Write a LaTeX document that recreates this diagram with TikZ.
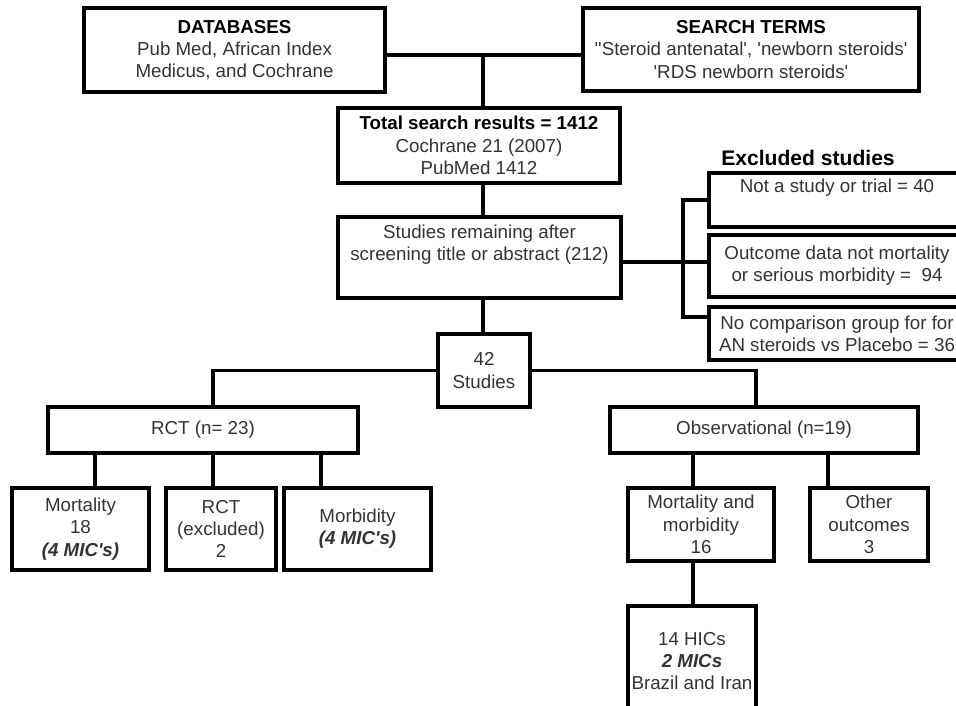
\documentclass[tikz,border=0pt]{standalone}
\usepackage{fontspec}
\setmainfont{Liberation Sans}
\newcommand{\mic}[1]{\textbf{\textit{#1}}}
\newcommand{\sq}{\textquotesingle}

\begin{document}
\begin{tikzpicture}[x=0.03cm, y=-0.03cm,
    box/.style={draw, line width=3.2pt, inner sep=0pt, align=center, text=black!80,
      font=\fontsize{16}{19}\selectfont},
    link/.style={line width=3pt}]
  \useasboundingbox (0,0) rectangle (956,706);
  \clip (0,0) rectangle (956,706);

  % search
  \node[box, minimum width=9.03cm, minimum height=2.52cm] (db) at (234.5,50)
    {\textbf{\color{black}DATABASES}\\Pub Med, African Index\\Medicus, and Cochrane};
  \node[box, minimum width=10.08cm, minimum height=2.49cm] (terms) at (751,49.5)
    {\textbf{\color{black}SEARCH TERMS}\\\sq\sq Steroid antenatal\sq, \sq newborn steroids\sq\\\sq RDS newborn steroids\sq};
  \node[box, minimum width=8.46cm, minimum height=2.25cm] (total) at (479,145.5)
    {\textbf{\color{black}Total search results = 1412}\\Cochrane 21 (2007)\\PubMed 1412};
  \node[box, minimum width=8.49cm, minimum height=2.43cm] (screen) at (479.5,257.5)
    {Studies remaining after\\screening title or abstract (212)\\\strut};

  % excluded
  \node[font=\fontsize{18}{21}\selectfont\bfseries] (extitle) at (808,158) {Excluded studies};
  \node[box, minimum width=7.68cm, minimum height=1.62cm] (ex1) at (837,200)
    {Not a study or trial = 40\\\strut};
  \node[box, minimum width=7.68cm, minimum height=1.86cm] (ex2) at (837,266)
    {Outcome data not mortality\\or serious morbidity =~~94};
  \node[box, minimum width=7.68cm, minimum height=1.59cm] (ex3) at (837,333.5)
    {No comparison group for for\\AN steroids vs Placebo = 36};

  % included
  \node[box, minimum width=2.76cm, minimum height=2.19cm] (incl) at (484,370.5) {42\\Studies};
  \node[box, minimum width=9.3cm, minimum height=1.38cm] (rct) at (203,430) {RCT (n= 23)};
  \node[box, minimum width=9.24cm, minimum height=1.38cm] (obs) at (764,430) {Observational (n=19)};

  \node[box, minimum width=4.11cm, minimum height=2.46cm] (mort) at (80.5,529)
    {Mortality\\18\\\mic{(4 MIC\sq s)}};
  \node[box, minimum width=3.3cm, minimum height=2.46cm] (rctex) at (221,529)
    {RCT\\(excluded)\\2};
  \node[box, minimum width=4.41cm, minimum height=2.46cm] (morb) at (357.5,529)
    {Morbidity\\\mic{(4 MIC\sq s)}};
  \node[box, minimum width=4.38cm, minimum height=2.19cm] (mm) at (701,524.5)
    {Mortality and\\morbidity\\16};
  \node[box, minimum width=3.54cm, minimum height=2.19cm] (other) at (869,524.5)
    {Other\\outcomes\\3};
  \node[box, minimum width=3.84cm, minimum height=3.3cm] (hic) at (692,661)
    {14 HICs\\\mic{2 MICs}\\Brazil and Iran};

  % connectors
  \coordinate (j) at (483,55);
  \coordinate (br) at (683,262);
  \coordinate (brb) at (683,317);
  \draw[link] (db.east |- j) -- (terms.west |- j);
  \draw[link] (j) -- (j |- total.north);
  \draw[link] (j |- total.south) -- (j |- screen.north);
  \draw[link] (j |- screen.south) -- (j |- incl.north);
  \draw[link] (screen.east |- br) -- (br -| ex2.west);
  \draw[link] (ex1.west) -| (brb) -- (brb -| ex3.west);
  \draw[link] (incl.west) -| ([xshift=0.3cm]rct.north);
  \draw[link] (incl.east) -| ([xshift=-0.24cm]obs.north);
  \foreach \n/\p/\dx in {mort/rct/0.43, rctex/rct/-0.24, morb/rct/-1.1,
                         mm/obs/-0.24, other/obs/-1.23}
    \draw[link] ([xshift=\dx cm]\n.north) -- ([xshift=\dx cm]\n.north |- \p.south);
  \draw[link] ([xshift=-0.24cm]mm.south) -- ([xshift=-0.24cm]mm.south |- hic.north);
\end{tikzpicture}
\end{document}
